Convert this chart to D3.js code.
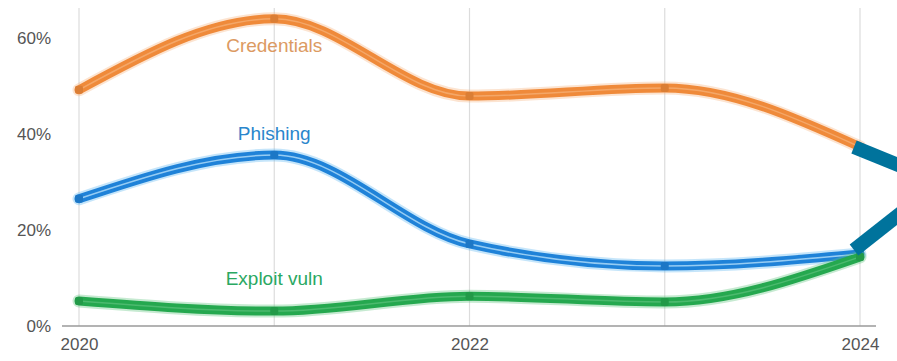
<!DOCTYPE html>
<html>
<head>
<meta charset="utf-8">
<script src="https://cdn.jsdelivr.net/npm/d3@7"></script>
<style>
  body { margin: 0; background: #fff; }
  svg { display: block; font-family: "Liberation Sans", Arial, sans-serif; }
</style>
</head>
<body>
<svg id="chart" width="897" height="361"></svg>
<script>
// chart data
var years = [2020, 2021, 2022, 2023, 2024];
var credentials = [49.2, 64.0, 47.9, 49.6, 37.3];
var phishing = [26.5, 35.6, 17.1, 12.5, 15.0];
var exploitVuln = [5.2, 3.1, 6.2, 5.0, 14.4];
var yTicks = [0, 20, 40, 60];
var xTickLabels = [2020, 2022, 2024];

var series = [
  { name: "Credentials", values: credentials, color: "#ef8a3a", halo: "#f6b27a", label: "#dc9a62", dx: 0, dy: 33, center: "rgba(255,220,190,0.35)" },
  { name: "Phishing", values: phishing, color: "#1f82d8", halo: "#58b5f0", label: "#2a86cc", dx: 0, dy: -15, center: "rgba(200,235,255,0.7)" },
  { name: "Exploit vuln", values: exploitVuln, color: "#25a84f", halo: "#5cc47c", label: "#2aa862", dx: 0, dy: -26, center: "rgba(190,240,205,0.25)" }
];

var svg = d3.select("#chart");

var x = d3.scaleLinear().domain([2020, 2024]).range([79, 860]);
var y = d3.scaleLinear().domain([0, 60]).range([326, 38]);

// vertical grid at every year
svg.append("g").selectAll("line")
  .data(years)
  .enter().append("line")
  .attr("x1", function(d) { return x(d); })
  .attr("x2", function(d) { return x(d); })
  .attr("y1", 8)
  .attr("y2", y(0))
  .attr("stroke", "#dcdcdc")
  .attr("stroke-width", 1.2);

// baseline
svg.append("line")
  .attr("x1", 62).attr("x2", 876)
  .attr("y1", y(0)).attr("y2", y(0))
  .attr("stroke", "#9a9a9a")
  .attr("stroke-width", 1.5);

// y axis labels
var yAxis = d3.axisLeft(y)
  .tickValues(yTicks)
  .tickSize(0)
  .tickPadding(0)
  .tickFormat(function(d) { return d + "%"; });

var yg = svg.append("g")
  .attr("transform", "translate(51,0)")
  .call(yAxis);
yg.select(".domain").remove();
yg.selectAll("text")
  .attr("fill", "#555")
  .attr("font-size", 17)
  .attr("font-family", "Liberation Sans, Arial, sans-serif");

// x axis labels
var xAxis = d3.axisBottom(x)
  .tickValues(xTickLabels)
  .tickSize(0)
  .tickPadding(12)
  .tickFormat(d3.format("d"));

var xg = svg.append("g")
  .attr("transform", "translate(0," + y(0) + ")")
  .call(xAxis);
xg.select(".domain").remove();
xg.selectAll("text")
  .attr("fill", "#555")
  .attr("font-size", 17)
  .attr("font-family", "Liberation Sans, Arial, sans-serif");

var line = d3.line()
  .x(function(d, i) { return x(years[i]); })
  .y(function(d) { return y(d); })
  .curve(d3.curveMonotoneX);

var lines = svg.append("g").selectAll("g")
  .data(series)
  .enter().append("g");

// soft halo
lines.append("path")
  .attr("d", function(d) { return line(d.values); })
  .attr("fill", "none")
  .attr("stroke", function(d) { return d.halo; })
  .attr("stroke-width", 13)
  .attr("stroke-opacity", 0.35)
  .attr("stroke-linecap", "round");

lines.append("path")
  .attr("d", function(d) { return line(d.values); })
  .attr("fill", "none")
  .attr("stroke", function(d) { return d.color; })
  .attr("stroke-width", 9)
  .attr("stroke-linecap", "round");

// faint light core
lines.append("path")
  .attr("d", function(d) { return line(d.values); })
  .attr("fill", "none")
  .attr("stroke", function(d) { return d.center; })
  .attr("stroke-width", 1.5);

// point markers
lines.selectAll("rect")
  .data(function(d) { return d.values.map(function(v) { return { v: v, c: d.color }; }); })
  .enter().append("rect")
  .attr("x", function(d, i) { return x(years[i]) - 4; })
  .attr("y", function(d) { return y(d.v) - 4; })
  .attr("width", 8)
  .attr("height", 8)
  .attr("rx", 2)
  .attr("fill", function(d) { return d3.color(d.c).darker(0.25); });

// series labels next to the 2021 point
lines.append("text")
  .attr("x", function(d) { return x(2021) + d.dx; })
  .attr("y", function(d) { return y(d.values[1]) + d.dy; })
  .attr("text-anchor", "middle")
  .attr("font-size", 19)
  .attr("fill", function(d) { return d.label; })
  .text(function(d) { return d.name; });

// teal pointer at the 2024 end of credentials and phishing
var endX = x(2024);
var arrow = svg.append("g")
  .attr("stroke", "#00739c")
  .attr("stroke-width", 14)
  .attr("stroke-linecap", "butt");

arrow.append("line")
  .attr("x1", endX - 6).attr("y1", y(credentials[4]))
  .attr("x2", endX + 60).attr("y2", y(credentials[4]) + 27);

arrow.append("line")
  .attr("x1", endX - 6).attr("y1", y(phishing[4]) - 4)
  .attr("x2", endX + 60).attr("y2", y(phishing[4]) - 56);
</script>
</body>
</html>
